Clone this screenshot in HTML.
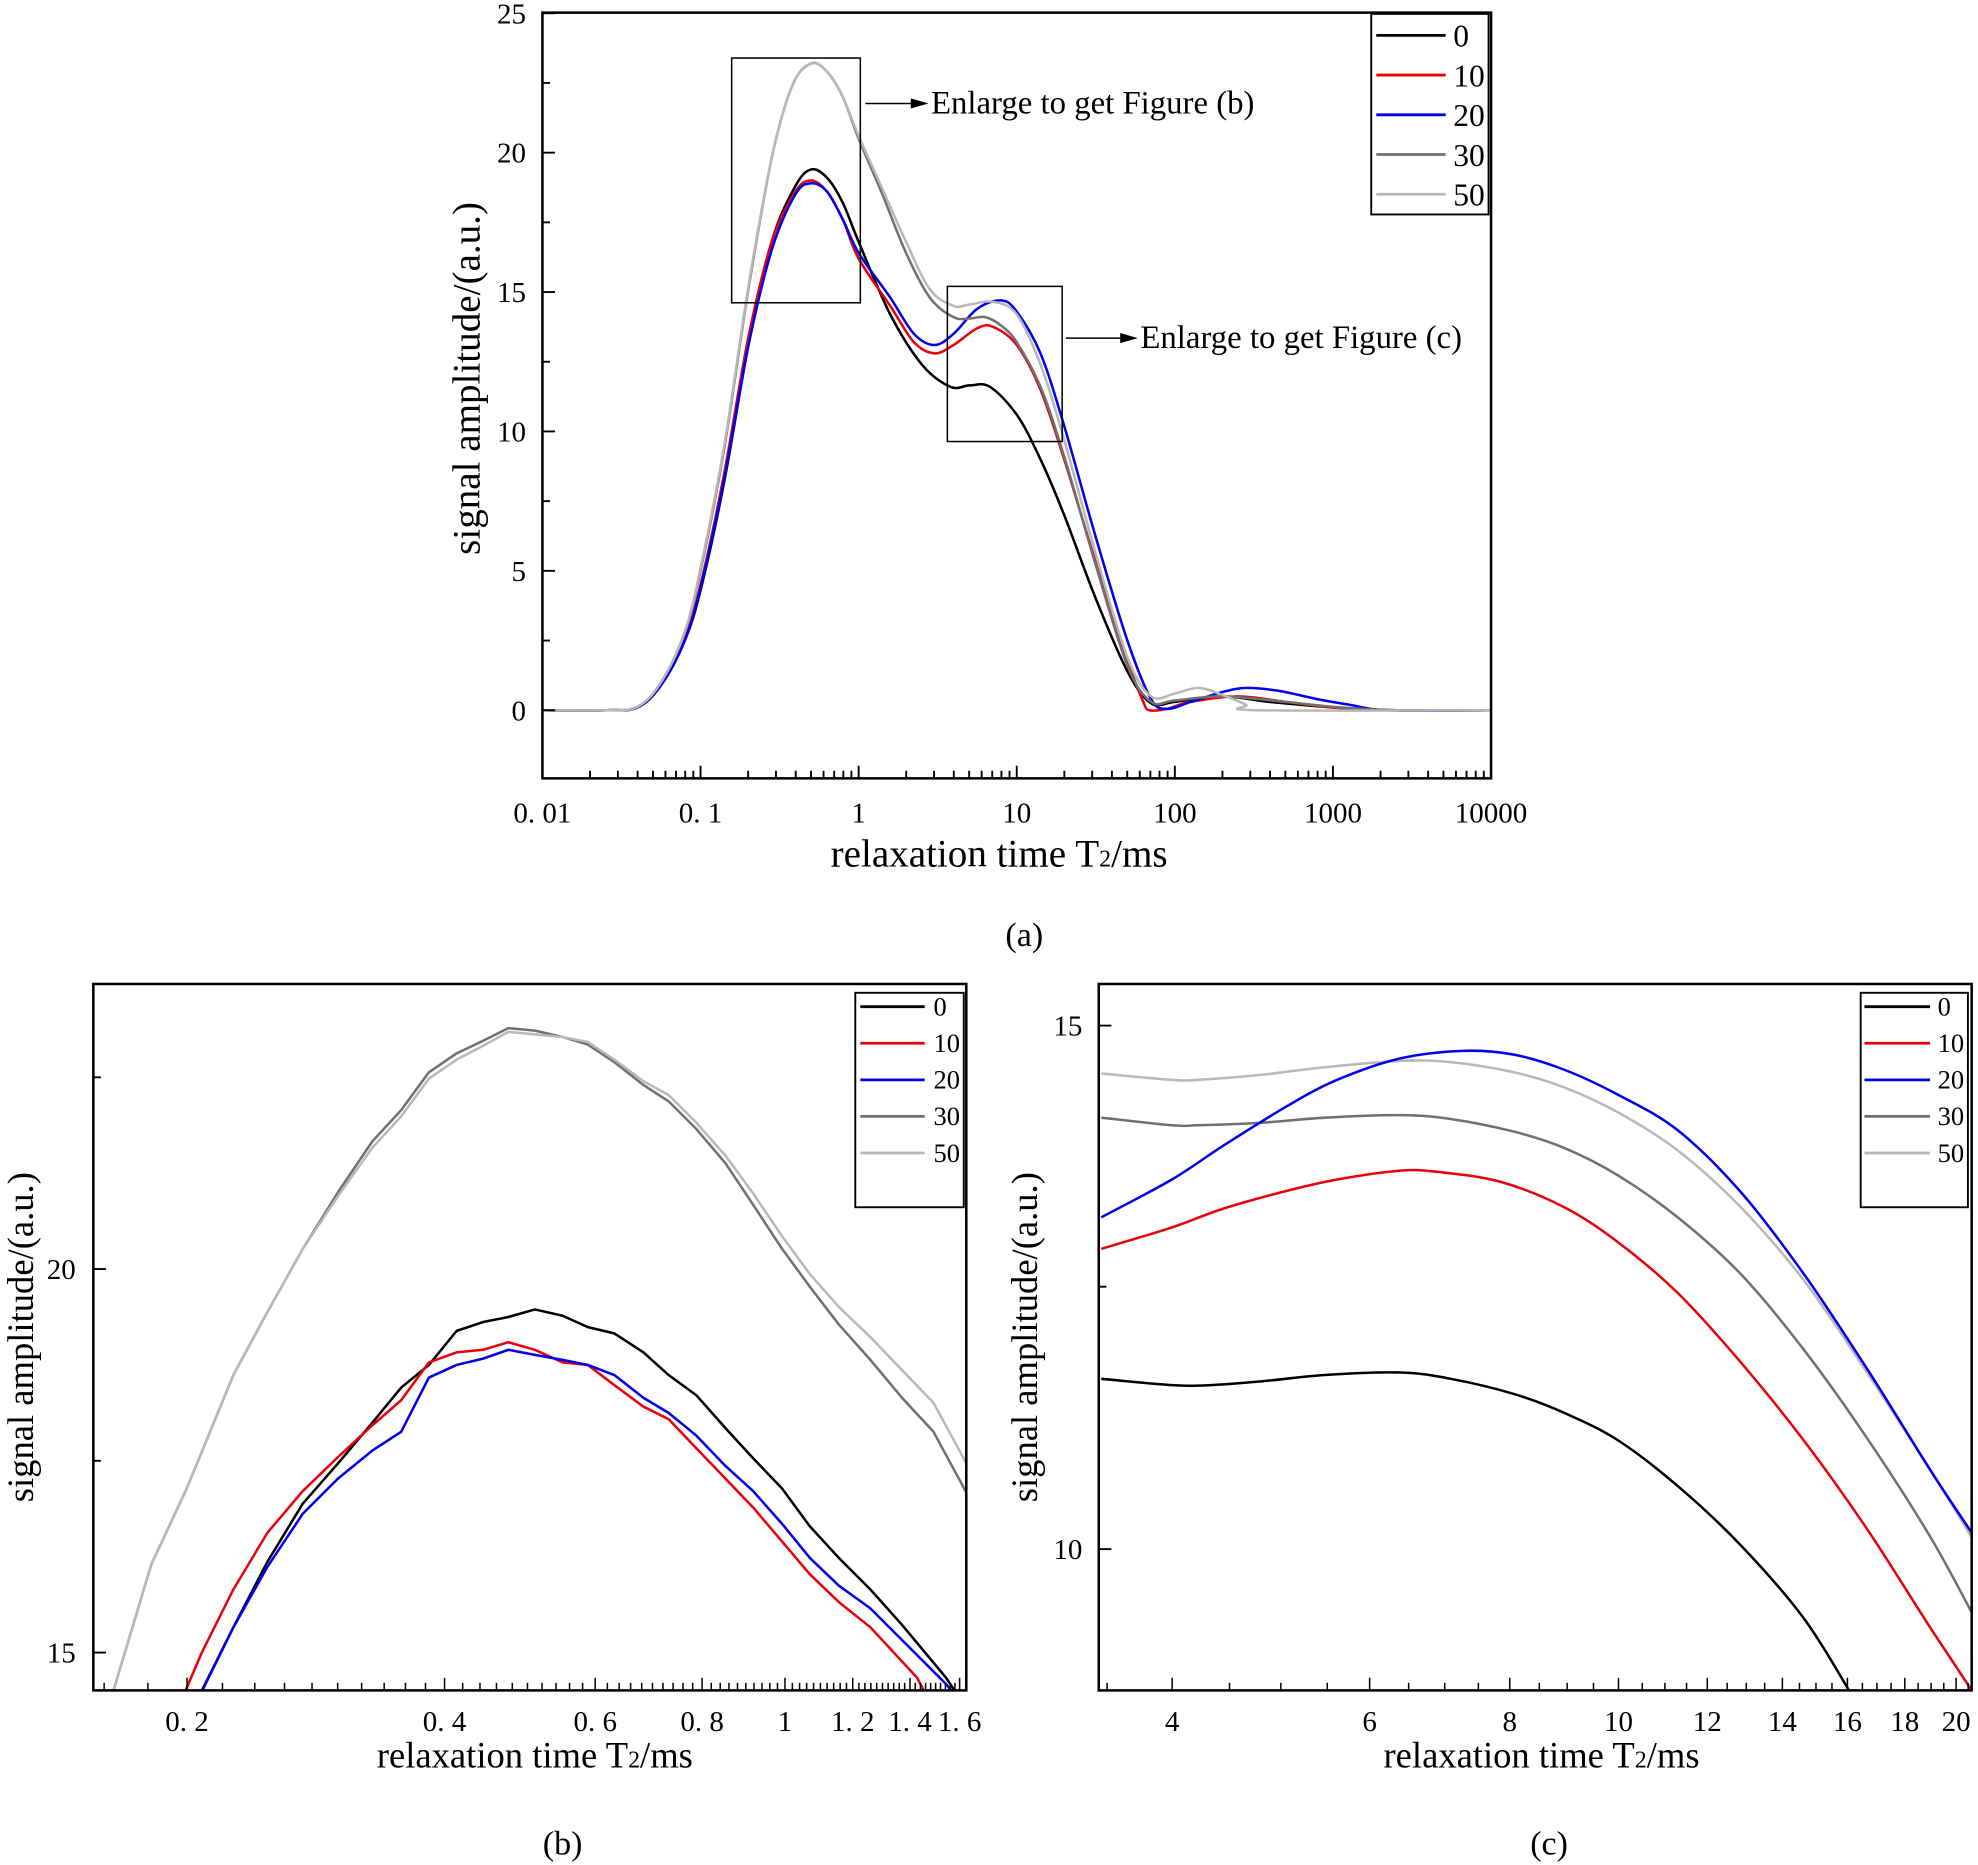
<!DOCTYPE html>
<html><head><meta charset="utf-8"><style>
html,body{margin:0;padding:0;background:#fff;}
svg{display:block;}
text{font-family:"Liberation Serif",serif;fill:#000;}
</style></head><body>
<svg id="s" width="1978" height="1865" viewBox="0 0 1568 1478.4" xmlns="http://www.w3.org/2000/svg"></svg>
<script>
const S=document.getElementById('s');let h='';
const C={0:'#000',10:'#e8000b',20:'#0000ee',30:'#707070',50:'#b8b8b8'};
function cr(p){let d='M'+p[0][0].toFixed(1)+','+p[0][1].toFixed(1);
for(let i=0;i<p.length-1;i++){const a=p[Math.max(0,i-1)],b=p[i],c=p[i+1],e=p[Math.min(p.length-1,i+2)];
d+=' C'+(b[0]+(c[0]-a[0])/6).toFixed(1)+','+(b[1]+(c[1]-a[1])/6).toFixed(1)+' '+(c[0]-(e[0]-b[0])/6).toFixed(1)+','+(c[1]-(e[1]-b[1])/6).toFixed(1)+' '+c[0].toFixed(1)+','+c[1].toFixed(1);}return d;}
function path(p,col,clip,w,poly){const d=poly?'M'+p.map(q=>q[0]+','+q[1]).join(' L'):cr(p);h+=`<path d="${d}" fill="none" stroke="${col}" stroke-width="${w||2}" stroke-linejoin="round" ${clip?'clip-path="url(#'+clip+')"':''}/>`;}
function txt(x,y,s,sz,anc){h+=`<text x="${x}" y="${y}" font-size="${sz}" text-anchor="${anc||'middle'}">${s}</text>`;}
function line(x1,y1,x2,y2,w,c){h+=`<line x1="${x1}" y1="${y1}" x2="${x2}" y2="${y2}" stroke="${c||'#000'}" stroke-width="${w||1.5}"/>`;}
h+='<defs><clipPath id="ca"><rect x="430" y="10" width="752" height="607"/></clipPath><clipPath id="cb"><rect x="74" y="780" width="692" height="560"/></clipPath><clipPath id="cc"><rect x="871" y="780" width="692" height="560"/></clipPath></defs>';
// ===== (a)
const ax=l=>430+(l+2)*125.33, ay=v=>563-v*22.1;
const L=Math.log10;
const A={
0:[[-2,0],[-1.6,0],[-1.4,0.1],[-1.25,0.9],[-1.1,2.5],[-1,4.3],[-0.85,8.2],[-0.7,13],[-0.55,16.8],[-0.4,18.8],[-0.3,19.4],[-0.2,19.1],[-0.1,18.2],[0,16.8],[0.2,14.2],[0.4,12.4],[0.58,11.6],[0.7,11.65],[0.83,11.6],[1,10.6],[1.15,9],[1.3,7],[1.5,4],[1.7,1.4],[1.85,0.25],[2,0.3],[2.3,0.5],[2.6,0.3],[3,0.1],[3.4,0],[4,0]],
10:[[-2,0],[-1.6,0],[-1.4,0.1],[-1.25,0.9],[-1.1,2.6],[-1,4.5],[-0.85,8.5],[-0.7,13.3],[-0.55,16.8],[-0.4,18.6],[-0.3,19],[-0.2,18.6],[-0.1,17.6],[0,16.2],[0.2,14.5],[0.35,13.2],[0.48,12.8],[0.6,13.1],[0.75,13.7],[0.85,13.75],[1,13.1],[1.15,11.5],[1.3,9],[1.5,5.3],[1.7,1.8],[1.8,0.3],[1.84,0],[1.95,0.05],[2.1,0.3],[2.4,0.5],[2.7,0.3],[3,0.1],[3.4,0],[4,0]],
20:[[-2,0],[-1.6,0],[-1.4,0.1],[-1.25,0.9],[-1.1,2.5],[-1,4.4],[-0.85,8.3],[-0.7,13],[-0.55,16.5],[-0.4,18.5],[-0.3,18.9],[-0.2,18.6],[-0.1,17.6],[0,16.4],[0.2,14.8],[0.35,13.5],[0.48,13.1],[0.6,13.5],[0.75,14.4],[0.9,14.7],[1,14.3],[1.15,12.8],[1.3,10.2],[1.5,6.2],[1.7,2.5],[1.85,0.4],[1.95,0.05],[2.1,0.3],[2.3,0.65],[2.45,0.8],[2.65,0.7],[2.9,0.4],[3.1,0.2],[3.35,0],[4,0]],
30:[[-2,0],[-1.6,0],[-1.4,0.12],[-1.25,1],[-1.1,2.8],[-1,5],[-0.85,9.4],[-0.7,15],[-0.55,19.8],[-0.42,22.4],[-0.3,23.2],[-0.2,22.9],[-0.1,22],[0,20.5],[0.15,18.5],[0.3,16.4],[0.45,14.8],[0.6,14.1],[0.7,14.05],[0.8,14.1],[0.9,13.8],[1,13.2],[1.15,11.6],[1.3,9.1],[1.5,5.2],[1.7,1.6],[1.85,0.3],[2,0.35],[2.3,0.5],[2.7,0.3],[3,0.12],[3.4,0],[4,0]],
50:[[-2,0],[-1.6,0],[-1.4,0.12],[-1.25,1],[-1.1,2.8],[-1,5.1],[-0.85,9.5],[-0.7,15.1],[-0.55,19.8],[-0.42,22.4],[-0.3,23.2],[-0.2,22.9],[-0.1,22],[0,20.6],[0.15,18.7],[0.3,16.8],[0.45,15.1],[0.6,14.5],[0.7,14.55],[0.85,14.65],[1,14.2],[1.15,12.4],[1.3,9.7],[1.5,5.6],[1.7,1.9],[1.85,0.5],[2,0.6],[2.15,0.8],[2.3,0.55],[2.45,0.2],[2.52,0],[4,0]]};
for(const k of [0,10,20,30,50]) path(A[k].map(p=>[ax(p[0]),ay(p[1])]),C[k],'ca',2);
h+='<rect x="430" y="10" width="752" height="607" fill="none" stroke="#000" stroke-width="2"/>';
for(let d=-2;d<4;d++)for(let m=1;m<10;m++){const x=ax(d+L(m));line(x,617,x,m==1?607:611,1.5);}
line(1182,617,1182,607,1.5);
['0. 01','0. 1','1','10','100','1000','10000'].forEach((s,i)=>txt(430+i*125.33,652,s,23));
for(let v=-2.5;v<=25;v+=2.5){const y=ay(v);if(y<10||y>617)continue;line(430,y,v%5==0?440:436,y,1.5);}
for(let v=0;v<=25;v+=5)txt(417,ay(v)+8,v,23,'end');
txt(792,687,'relaxation time T<tspan font-size="19">2</tspan>/ms',31);
h+='<text transform="translate(380,300) rotate(-90)" font-size="31" text-anchor="middle">signal amplitude/(a.u.)</text>';
h+='<rect x="1087" y="11" width="93" height="159" fill="#fff" stroke="#000" stroke-width="1.5"/>';
[0,10,20,30,50].forEach((k,i)=>{const y=28+i*31.5;line(1091,y,1146,y,2.2,C[k]);txt(1152,y+9,k,25,'start');});
h+='<rect x="580" y="46" width="102" height="194" fill="none" stroke="#000" stroke-width="1.2"/>';
h+='<rect x="751" y="227" width="91" height="123" fill="none" stroke="#000" stroke-width="1.2"/>';
line(686,82,722,82,1.2);h+='<polygon points="722,78 736,82 722,86" fill="#000"/>';txt(738,90,'Enlarge to get Figure (b)',26,'start');
line(845,268,888,268,1.2);h+='<polygon points="888,264 902,268 888,272" fill="#000"/>';txt(904,276,'Enlarge to get Figure (c)',26,'start');
txt(812,750,'(a)',27);
// ===== (b)
const B={
30:[[90,1340],[120,1240],[148,1180],[185,1090],[212,1040],[240,990],[268,945],[295,905],[318,880],[340,850],[362,835],[383,825],[403,815],[424,817],[446,822],[466,828],[487,842],[510,860],[530,873],[552,895],[575,922],[597,955],[620,990],[642,1020],[665,1050],[690,1078],[715,1108],[740,1135],[766,1183]],
50:[[90,1340],[120,1240],[148,1180],[185,1090],[212,1040],[240,990],[268,948],[295,910],[318,885],[340,855],[362,840],[383,829],[403,818],[424,820],[446,822],[466,826],[487,840],[510,857],[530,868],[552,890],[575,916],[597,946],[620,980],[642,1010],[665,1036],[690,1060],[715,1086],[740,1112],[766,1160]],
0:[[160,1340],[185,1290],[212,1238],[240,1192],[268,1160],[295,1128],[318,1100],[340,1082],[362,1055],[383,1048],[403,1044],[424,1038],[446,1043],[466,1052],[487,1057],[510,1072],[530,1090],[552,1106],[575,1132],[597,1156],[620,1180],[642,1210],[665,1235],[690,1260],[715,1288],[750,1330],[760,1345]],
10:[[145,1345],[160,1310],[185,1260],[212,1215],[240,1182],[268,1155],[295,1130],[318,1110],[340,1080],[362,1072],[383,1070],[403,1064],[424,1070],[446,1080],[466,1082],[487,1098],[510,1115],[530,1125],[552,1148],[575,1172],[597,1195],[620,1222],[642,1248],[665,1270],[690,1290],[727,1330],[735,1345]],
20:[[158,1345],[185,1290],[212,1242],[240,1200],[268,1172],[295,1150],[318,1135],[340,1092],[362,1082],[383,1077],[403,1070],[424,1074],[446,1078],[466,1082],[487,1090],[510,1108],[530,1120],[552,1138],[575,1162],[597,1182],[620,1208],[642,1235],[665,1257],[690,1275],[715,1300],[750,1335],[758,1345]]};
for(const k of [30,50,0,10,20]) path(B[k],C[k],'cb',2,true);
h+='<rect x="74" y="780" width="692" height="560" fill="none" stroke="#000" stroke-width="2"/>';
const bx=v=>785/1.2615+(L(v))*855.5/1.2615;
for(let v=0.16;v<=1.61;v+=0.02){const x=bx(v);const maj=Math.abs(Math.round(v*5)-v*5)<0.01;line(x,1340,x,maj?1330:1334,1.2);}
[[0.2,'0. 2'],[0.4,'0. 4'],[0.6,'0. 6'],[0.8,'0. 8'],[1,'1'],[1.2,'1. 2'],[1.4,'1. 4'],[1.6,'1. 6']].forEach(a=>txt(bx(a[0]),1372,a[1],23));
[[1310,15],[1006,20]].forEach(a=>{line(74,a[0],84,a[0],1.5);txt(60,a[0]+8,a[1],23,'end');});
[1158,854].forEach(y=>line(74,y,80,y,1.5));
txt(424,1401,'relaxation time T<tspan font-size="19">2</tspan>/ms',29);
h+='<text transform="translate(26,1060) rotate(-90)" font-size="29" text-anchor="middle">signal amplitude/(a.u.)</text>';
h+='<rect x="678" y="787" width="86" height="170" fill="#fff" stroke="#000" stroke-width="1.5"/>';
[0,10,20,30,50].forEach((k,i)=>{const y=798+i*29;line(682,y,733,y,2.2,C[k]);txt(740,y+7,k,21,'start');});
txt(446,1470,'(b)',27);
// ===== (c)
const Cc={
50:[[873,851],[929,856],[950,856],[1000,852],[1050,846],[1110,841],[1150,842],[1200,850],[1240,862],[1283,882],[1330,912],[1380,957],[1430,1015],[1480,1088],[1530,1165],[1565,1222]],
30:[[873,886],[929,892],[950,892],[1000,890],[1050,886],[1110,884],[1150,887],[1200,897],[1240,910],[1283,932],[1330,965],[1380,1010],[1430,1070],[1480,1140],[1530,1218],[1565,1282]],
20:[[873,965],[929,935],[970,908],[1020,877],[1060,856],[1110,839],[1160,833],[1200,836],[1240,848],[1283,868],[1330,896],[1380,945],[1430,1010],[1480,1085],[1530,1165],[1565,1218]],
10:[[873,990],[929,973],[970,958],[1020,944],[1060,935],[1110,928],[1140,929],[1190,937],[1240,957],[1283,985],[1330,1025],[1380,1080],[1430,1142],[1480,1212],[1530,1290],[1565,1343]],
0:[[873,1093],[929,1098],[960,1098],[1000,1095],[1050,1090],[1110,1088],[1150,1093],[1200,1105],[1240,1120],[1283,1142],[1330,1178],[1380,1225],[1430,1283],[1467,1342]]};
for(const k of [50,30,20,10,0]) path(Cc[k],C[k],'cc',2);
h+='<rect x="871" y="780" width="692" height="560" fill="none" stroke="#000" stroke-width="2"/>';
const cx=v=>1618.5/1.2615+L(v/10)*1121.6/1.2615;
for(let v=3.5;v<=20.6;v+=0.5){const x=cx(v);const maj=Math.abs(v-Math.round(v/2)*2)<0.01;line(x,1340,x,maj?1330:1334,1.2);}
[4,6,8,10,12,14,16,18,20].forEach(v=>txt(cx(v),1372,v,23));
[[1228,10],[813,15]].forEach(a=>{line(871,a[0],881,a[0],1.5);txt(858,a[0]+8,a[1],23,'end');});
[1020].forEach(y=>line(871,y,877,y,1.5));
txt(1222,1401,'relaxation time T<tspan font-size="19">2</tspan>/ms',29);
h+='<text transform="translate(822,1060) rotate(-90)" font-size="29" text-anchor="middle">signal amplitude/(a.u.)</text>';
h+='<rect x="1475" y="787" width="85" height="170" fill="#fff" stroke="#000" stroke-width="1.5"/>';
[0,10,20,30,50].forEach((k,i)=>{const y=798+i*29;line(1478,y,1530,y,2.2,C[k]);txt(1536,y+7,k,21,'start');});
txt(1228,1470,'(c)',27);
S.innerHTML=h;
</script>
</body></html>
